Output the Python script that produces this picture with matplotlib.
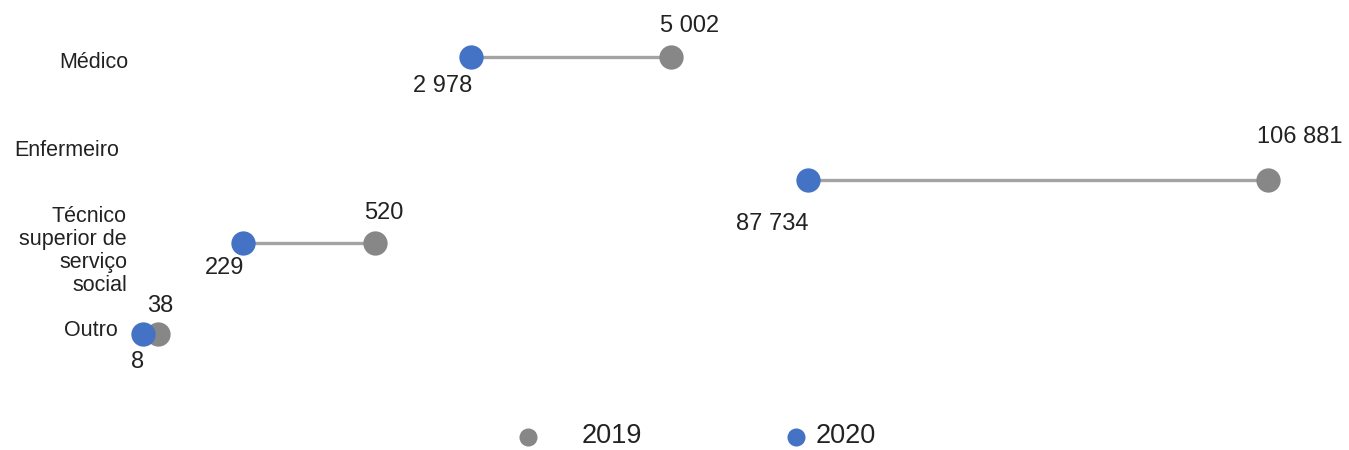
import matplotlib
matplotlib.use("Agg")
import matplotlib.pyplot as plt

plt.rcParams['font.family'] = ['Liberation Sans', 'DejaVu Sans']

# ---- data ----
categories = ["Médico", "Enfermeiro", "Técnico\nsuperior de\nserviço\nsocial", "Outro"]
values_2019 = [5002, 106881, 520, 38]
values_2020 = [2978, 87734, 229, 8]
labels_2019 = ["5 002", "106 881", "520", "38"]
labels_2020 = ["2 978", "87 734", "229", "8"]
series_names = ["2019", "2020"]

# positions of the points in the chart's own (non-linear) plotting units
xpos_2019 = [671, 1268, 375, 158]
xpos_2020 = [471, 808, 243, 143]
ypos_rows = [57, 180, 243, 334]

# category label anchors (chart units)
cat_x = [128, 119, 127, 118]
cat_y = [63, 151, 251, 331]
# value-label vertical offsets per row
lab_dy_up = [-31, -43, -30, -28]
lab_dy_dn = [29, 44, 25, 28]

c2019 = "#878787"
c2020 = "#4472C4"
cline = "#a3a3a3"

fig = plt.figure(figsize=(13.49, 4.50), dpi=100)
ax = fig.add_axes([0, 0, 1, 1])
ax.set_xlim(0, 1349)
ax.set_ylim(450, 0)
ax.axis("off")

for i in range(len(categories)):
    ax.plot([xpos_2020[i], xpos_2019[i]], [ypos_rows[i], ypos_rows[i]],
            color=cline, lw=2.4, zorder=1, solid_capstyle="butt")
ax.scatter(xpos_2019, ypos_rows, s=17.5**2, color=c2019, zorder=2, linewidths=0)
ax.scatter(xpos_2020, ypos_rows, s=17.5**2, color=c2020, zorder=3, linewidths=0)

for i in range(len(categories)):
    ax.text(xpos_2019[i] - 11, ypos_rows[i] + lab_dy_up[i], labels_2019[i],
            ha="left", va="center", fontsize=17, color="#222222")
    ax.text(xpos_2020[i] + 1, ypos_rows[i] + lab_dy_dn[i], labels_2020[i],
            ha="right", va="center", fontsize=17, color="#222222")
    ax.text(cat_x[i], cat_y[i], categories[i], ha="right", va="center",
            fontsize=15.5, color="#222222", linespacing=1.12,
            multialignment="right")

# legend
leg_marker_x = [528, 796]
leg_text_x = [582, 816]
for mx, tx, col, name in zip(leg_marker_x, leg_text_x, [c2019, c2020], series_names):
    ax.scatter([mx], [437], s=13**2, color=col, linewidths=0, clip_on=False)
    ax.text(tx, 436, name, ha="left", va="center", fontsize=19.5, color="#222222")

fig.savefig("out.png", dpi=100)
